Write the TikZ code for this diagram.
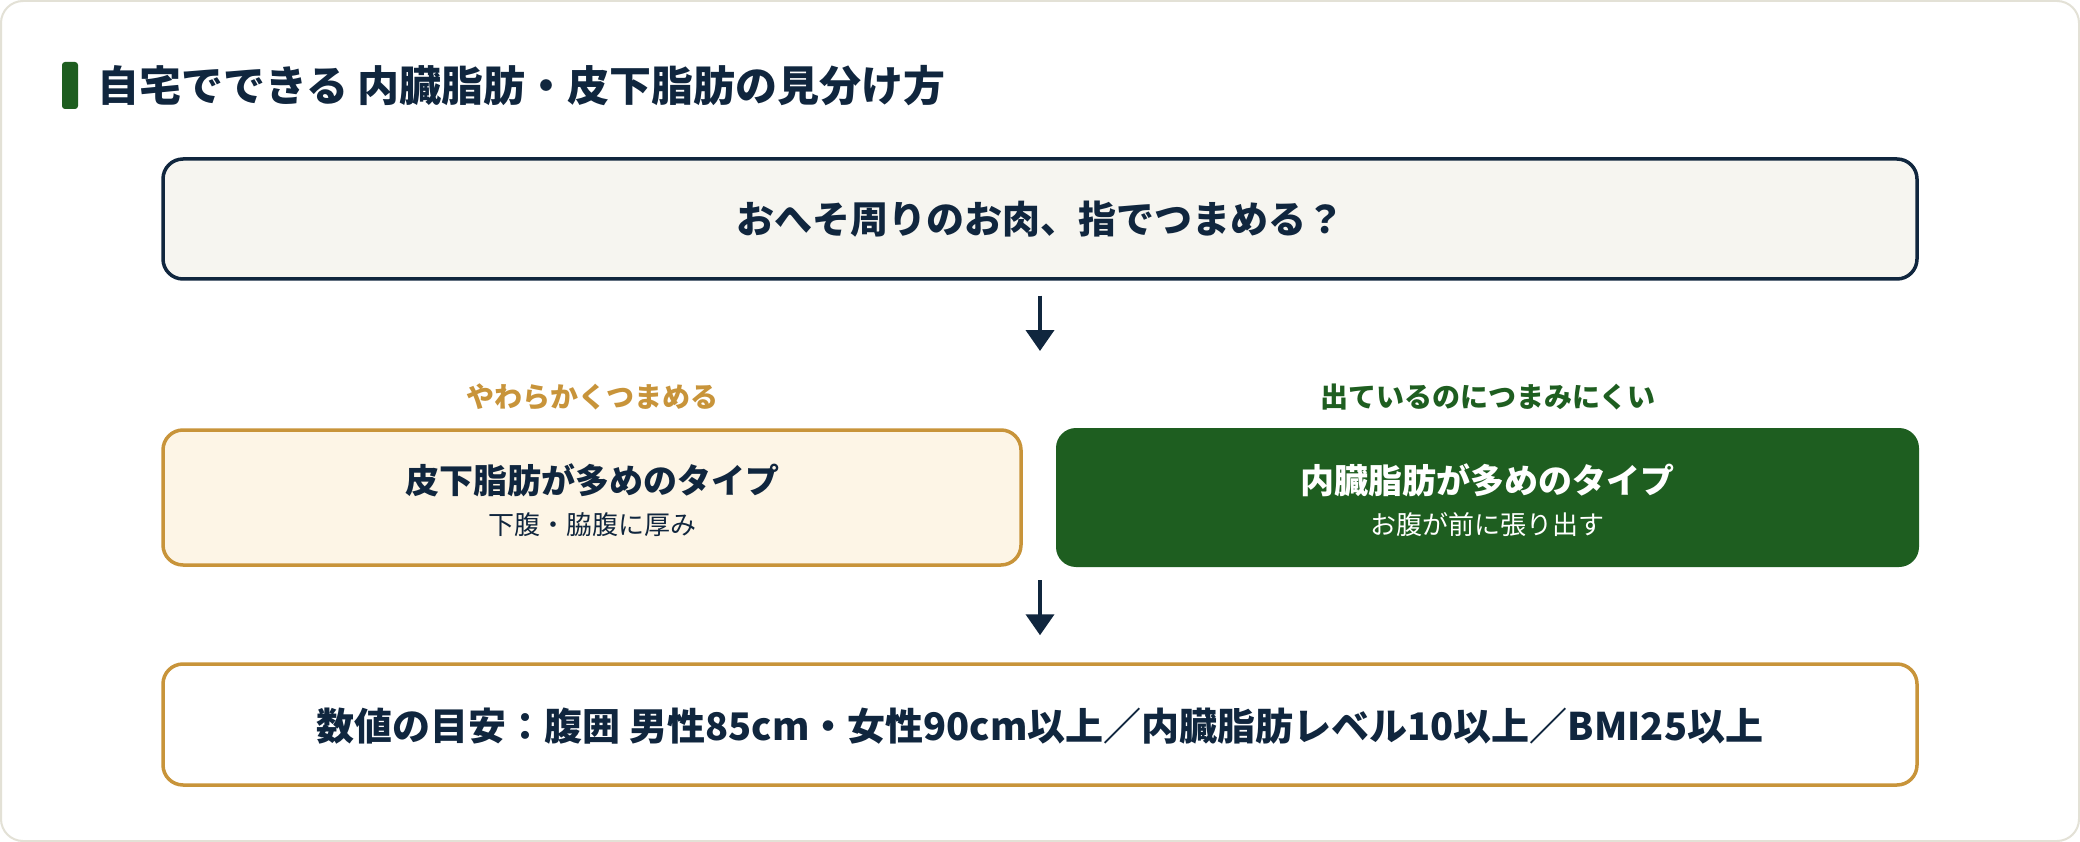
\documentclass[tikz,border=0pt]{standalone}
\usepackage{fontspec}
\setmainfont{Noto Sans CJK JP}
\usepackage{xcolor}
\usetikzlibrary{arrows.meta}

\definecolor{navy}{HTML}{10263E}
\definecolor{leaf}{HTML}{1E5E20}
\definecolor{gold}{HTML}{C8943A}
\definecolor{cream}{HTML}{FDF5E6}
\definecolor{paper}{HTML}{F6F5F0}
\definecolor{rim}{HTML}{E3E1D6}

\begin{document}
\begin{tikzpicture}[x=1pt,y=-1pt,
    wide/.style={rounded corners=20pt,minimum width=1754pt,line width=3.5pt},
    half/.style={rounded corners=20pt,minimum width=858pt,minimum height=135pt,line width=3.5pt},
    flow/.style={navy,line width=4pt,-{Triangle[width=28pt,length=21pt]}},
    big/.style={font=\bfseries\fontsize{38}{45}\selectfont,text=navy,inner sep=0pt},
    mid/.style={font=\bfseries\fontsize{34}{40}\selectfont,inner sep=0pt},
    small/.style={font=\fontsize{26}{30}\selectfont,inner sep=0pt},
    cue/.style={font=\bfseries\fontsize{28}{32}\selectfont,inner sep=0pt}]
    % --- frame
    \useasboundingbox (0,0) rectangle (2080,842);
    \fill[white] (0,0) rectangle (2080,842);
    \draw[rim,line width=2pt,fill=white,rounded corners=22pt] (1,1) rectangle (2079,841);

    % --- heading
    \fill[leaf,rounded corners=3pt] (62,62) rectangle (78,109);
    \node[anchor=west,inner sep=0pt,text=navy,font=\bfseries\fontsize{42}{50}\selectfont] (head) at (97,86) {自宅でできる 内臓脂肪・皮下脂肪の見分け方};

    % --- question
    \node[wide,draw=navy,fill=paper,minimum height=120pt] (q) at (1040,219) {};
    \node[big] (qt) at (1040,219) {おへそ周りのお肉、指でつまめる？};
    \coordinate (split) at (1040,351);

    % --- two answers
    \node[cue,text=gold] (soft) at (592,397) {やわらかくつまめる};
    \node[cue,text=leaf] (hard) at (1488,397) {出ているのにつまみにくい};
    \node[half,draw=gold,fill=cream] (sub) at (592,497.5) {};
    \node[half,fill=leaf,minimum width=863pt,minimum height=139pt] (vis) at (1487.5,497.5) {};
    \node[mid,text=navy] (subt) at (592,480) {皮下脂肪が多めのタイプ};
    \node[small,text=navy] (subs) at (592,525) {下腹・脇腹に厚み};
    \node[mid,text=white] (vist) at (1487.5,480) {内臓脂肪が多めのタイプ};
    \node[small,text=white] (viss) at (1487.5,525) {お腹が前に張り出す};
    \coordinate (join) at (1040,567);

    % --- criteria
    \node[wide,draw=gold,fill=white,minimum height=121pt] (crit) at (1040,724.5) {};
    \node[big] (critt) at (1040,726) {数値の目安：腹囲 男性85cm・女性90cm以上／内臓脂肪レベル10以上／BMI25以上};

    % --- arrows
    \draw[flow,shorten <=15pt] (q.south) -- (split);
    \draw[flow,shorten <=13pt,shorten >=27pt] (join) -- (crit.north);
\end{tikzpicture}
\end{document}
